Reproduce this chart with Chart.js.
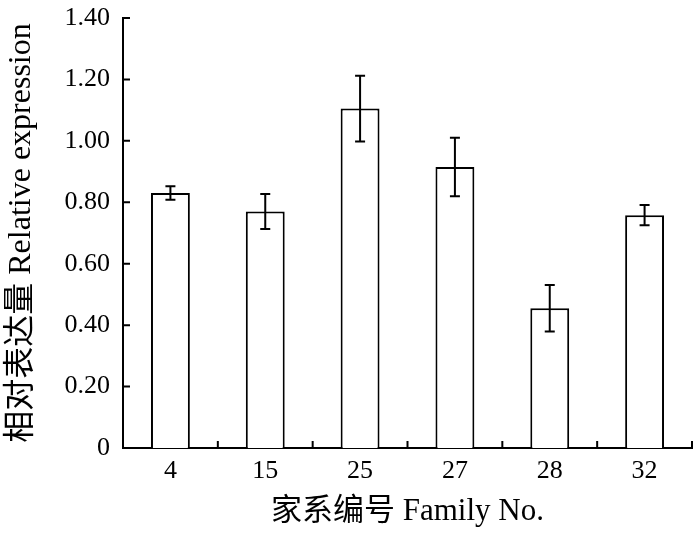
<!DOCTYPE html>
<html>
<head>
<meta charset="utf-8">
<script src="https://cdn.jsdelivr.net/npm/chart.js@4"></script>
<style>
  html, body { margin: 0; padding: 0; background: #fff; }
  #wrap { width: 700px; height: 537px; }
</style>
</head>
<body>
<div id="wrap"><canvas id="c" width="700" height="537"></canvas></div>
<script>
const categories = ['4', '15', '25', '27', '28', '32'];
const values = [0.83, 0.77, 1.105, 0.915, 0.455, 0.758];
const errors = [0.022, 0.057, 0.107, 0.095, 0.076, 0.033];
const yTicks = [0, 0.2, 0.4, 0.6, 0.8, 1.0, 1.2, 1.4];
const xTitle = '家系编号 Family No.';
const yTitle = '相对表达量 Relative expression';

const FONT = "'Liberation Serif', 'Noto Sans CJK SC', serif";

const errorBarPlugin = {
  id: 'errorBars',
  afterDatasetsDraw(chart) {
    const ctx = chart.ctx;
    const meta = chart.getDatasetMeta(0);
    const y = chart.scales.y;
    ctx.save();
    ctx.strokeStyle = '#000';
    ctx.lineWidth = 2;
    meta.data.forEach((bar, i) => {
      const x = bar.x;
      const yTop = y.getPixelForValue(values[i] + errors[i]);
      const yBot = y.getPixelForValue(values[i] - errors[i]);
      const cap = 5;
      ctx.beginPath();
      ctx.moveTo(x, yTop); ctx.lineTo(x, yBot);
      ctx.moveTo(x - cap, yTop); ctx.lineTo(x + cap, yTop);
      ctx.moveTo(x - cap, yBot); ctx.lineTo(x + cap, yBot);
      ctx.stroke();
    });
    ctx.restore();
  }
};

const inwardTicksPlugin = {
  id: 'inwardTicks',
  afterDraw(chart) {
    const ctx = chart.ctx;
    const xs = chart.scales.x;
    const ys = chart.scales.y;
    const area = chart.chartArea;
    ctx.save();
    ctx.strokeStyle = '#000';
    ctx.lineWidth = 2;
    ctx.beginPath();
    yTicks.forEach(v => {
      const py = ys.getPixelForValue(v);
      ctx.moveTo(area.left, py);
      ctx.lineTo(area.left + 7, py);
    });
    const n = categories.length;
    for (let i = 0; i < n; i++) {
      let px;
      if (i < n - 1) {
        px = (xs.getPixelForValue(i) + xs.getPixelForValue(i + 1)) / 2;
      } else {
        px = area.right;
      }
      ctx.moveTo(px, area.bottom);
      ctx.lineTo(px, area.bottom - 7);
    }
    ctx.stroke();
    ctx.restore();
  }
};

new Chart(document.getElementById('c'), {
  type: 'bar',
  data: {
    labels: categories,
    datasets: [{
      data: values,
      backgroundColor: '#ffffff',
      borderColor: '#000000',
      borderWidth: 2,
      barPercentage: 0.41,
      categoryPercentage: 1.0
    }]
  },
  options: {
    responsive: false,
    animation: false,
    devicePixelRatio: 1,
    layout: { padding: { top: 18, right: 8, bottom: 0, left: 0 } },
    plugins: {
      legend: { display: false },
      tooltip: { enabled: false }
    },
    scales: {
      x: {
        grid: { display: false, drawTicks: false },
        border: { display: true, color: '#000', width: 2 },
        ticks: { color: '#000', font: { family: FONT, size: 26 }, padding: 8 },
        title: { display: true, text: xTitle, color: '#000', font: { family: FONT, size: 31 }, padding: { top: 0, bottom: 7 } },
        afterFit(scale) { scale.height = 89; scale.paddingLeft = 0; scale.paddingRight = 0; }
      },
      y: {
        min: 0,
        max: 1.4,
        grid: { display: false, drawTicks: false },
        border: { display: true, color: '#000', width: 2 },
        ticks: {
          stepSize: 0.2,
          color: '#000',
          font: { family: FONT, size: 26 },
          padding: 13,
          callback: (v) => (Math.abs(v) < 1e-9 ? '0' : Number(v).toFixed(2))
        },
        title: { display: true, text: yTitle, color: '#000', font: { family: FONT, size: 32 }, padding: { top: 2, bottom: 0 } },
        afterFit(scale) { scale.width = 123; scale.paddingTop = 0; scale.paddingBottom = 0; }
      }
    }
  },
  plugins: [errorBarPlugin, inwardTicksPlugin]
});
</script>
</body>
</html>
